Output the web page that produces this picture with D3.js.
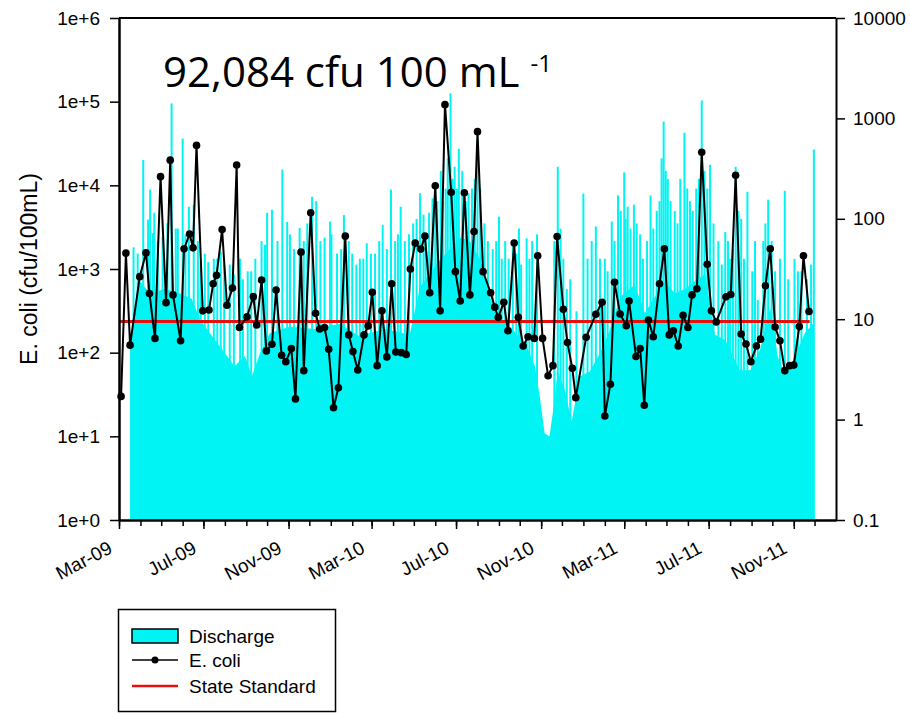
<!DOCTYPE html>
<html>
<head>
<meta charset="utf-8">
<script src="https://cdn.jsdelivr.net/npm/d3@7"></script>
<style>
  body { margin: 0; background: #fff; }
  svg text { font-family: "Liberation Sans", Arial, sans-serif; fill: #000; }
</style>
</head>
<body>
<div id="chart"></div>
<script>
// E. coli samples (cfu/100mL), left axis
var ecoliDates = ["2009-03-04","2009-03-11","2009-03-17","2009-03-31","2009-04-09","2009-04-14","2009-04-22","2009-04-30","2009-05-08","2009-05-14",
  "2009-05-18","2009-05-29","2009-06-03","2009-06-11","2009-06-16","2009-06-21","2009-06-30","2009-07-09","2009-07-15","2009-07-20",
  "2009-07-28","2009-08-04","2009-08-12","2009-08-18","2009-08-22","2009-09-02","2009-09-11","2009-09-16","2009-09-23","2009-09-30",
  "2009-10-08","2009-10-14","2009-10-22","2009-10-28","2009-11-05","2009-11-11","2009-11-19","2009-11-23","2009-12-03","2009-12-10",
  "2009-12-16","2009-12-23","2009-12-29","2010-01-05","2010-01-12","2010-01-22","2010-01-27","2010-02-02","2010-02-09","2010-02-18",
  "2010-02-24","2010-03-02","2010-03-09","2010-03-16","2010-03-23","2010-03-30","2010-04-05","2010-04-13","2010-04-20","2010-04-26",
  "2010-05-03","2010-05-11","2010-05-17","2010-05-24","2010-06-01","2010-06-08","2010-06-15","2010-06-24","2010-06-30","2010-07-07",
  "2010-07-13","2010-07-21","2010-07-27","2010-08-01","2010-08-09","2010-08-20","2010-08-26","2010-08-31","2010-09-08","2010-09-14",
  "2010-09-23","2010-09-29","2010-10-06","2010-10-13","2010-10-22","2010-10-27","2010-11-03","2010-11-11","2010-11-18","2010-11-24",
  "2010-12-03","2010-12-09","2010-12-16","2010-12-21","2011-01-05","2011-01-19","2011-01-28","2011-02-01","2011-02-09","2011-02-15",
  "2011-02-23","2011-03-04","2011-03-08","2011-03-18","2011-03-24","2011-03-30","2011-04-05","2011-04-12","2011-04-21","2011-04-28",
  "2011-05-05","2011-05-11","2011-05-18","2011-05-25","2011-06-01","2011-06-07","2011-06-14","2011-06-21","2011-06-29","2011-07-05",
  "2011-07-12","2011-07-26","2011-08-02","2011-08-09","2011-08-17","2011-08-24","2011-08-31","2011-09-08","2011-09-14","2011-09-21",
  "2011-09-28","2011-10-05","2011-10-12","2011-10-19","2011-10-26","2011-11-01","2011-11-09","2011-11-15","2011-11-23"];
var ecoliValues = [30,1550,123,810,1560,510,148,12700,396,20000,
  490,139,1740,2620,1790,30000,316,323,666,840,
  2960,368,593,17500,200,268,467,214,740,105,
  126,560,93,78,112,28,1590,61,4700,295,
  192,200,110,22,38,2470,163,103,62,163,
  209,526,70,316,89,665,102,100,95,1000,
  2040,1730,2470,520,9900,316,92084,8250,930,415,
  8150,490,2800,43800,930,520,350,265,400,183,
  2040,265,120,155,148,1440,148,53,70,2450,
  330,132,65,29,153,288,400,17.5,42,695,
  290,210,415,90,112,23.5,246,155,665,1740,
  163,183,120,280,200,490,580,24800,1140,316,
  233,466,495,13200,167,127,78,120,145,630,
  1740,203,139,61,70,71,205,1440,310];

// discharge, right axis: base flow level
var baseDates = ["2009-03-17","2009-03-24","2009-03-31","2009-04-15","2009-05-06","2009-05-28","2009-06-14","2009-06-26","2009-07-10","2009-08-01",
  "2009-08-15","2009-08-30","2009-09-09","2009-09-21","2009-10-05","2009-11-03","2009-12-09","2010-01-14","2010-02-11","2010-03-20",
  "2010-04-25","2010-05-10","2010-06-08","2010-07-07","2010-07-21","2010-08-05","2010-08-19","2010-09-02","2010-09-17","2010-10-09",
  "2010-10-23","2010-10-30","2010-11-06","2010-11-13","2010-11-18","2010-11-25","2010-12-05","2010-12-15","2010-12-27","2011-01-10",
  "2011-01-25","2011-02-08","2011-02-23","2011-03-16","2011-03-31","2011-04-14","2011-04-29","2011-05-13","2011-05-28","2011-06-11",
  "2011-06-26","2011-07-10","2011-07-25","2011-08-15","2011-08-30","2011-09-13","2011-09-28","2011-10-09","2011-10-19","2011-11-03",
  "2011-11-17","2011-11-30"];
var baseValues = [5.3,11.5,24,18,20,18,16,10,7.3,4.6,
  3.4,4.3,2.7,4.6,7.3,8.4,8,9,6.8,8,
  7,21,39,65,60,39,16.6,9.8,8.4,5.8,
  3.4,1.7,0.73,0.68,1.2,3,2,0.96,2.7,3,
  4.6,7.7,16.6,22,11.5,16.6,24,18,20,24,
  28,7,6.2,3.1,3.1,4.9,13,4.2,2.9,4.2,
  7.3,9.2];

// discharge storm peaks
var peakDates = ["2009-03-22","2009-03-28","2009-04-05","2009-04-12","2009-04-15","2009-04-19","2009-04-21","2009-04-26","2009-05-03","2009-05-10",
  "2009-05-16","2009-05-22","2009-05-25","2009-06-01","2009-06-05","2009-06-10","2009-06-17","2009-06-23","2009-06-27","2009-07-03",
  "2009-07-08","2009-07-16","2009-07-21","2009-07-26","2009-07-31","2009-08-08","2009-08-14","2009-08-23","2009-08-27","2009-09-03",
  "2009-09-08","2009-09-14","2009-09-23","2009-09-28","2009-10-01","2009-10-08","2009-10-16","2009-10-23","2009-10-30","2009-11-03",
  "2009-11-09","2009-11-17","2009-11-23","2009-11-28","2009-12-05","2009-12-11","2009-12-17","2009-12-23","2009-12-31","2010-01-02",
  "2010-01-10","2010-01-16","2010-01-20","2010-01-27","2010-02-01","2010-02-07","2010-02-12","2010-02-17","2010-02-22","2010-02-28",
  "2010-03-06","2010-03-12","2010-03-17","2010-03-23","2010-03-29","2010-04-04","2010-04-08","2010-04-12","2010-04-18","2010-04-24",
  "2010-04-30","2010-05-05","2010-05-10","2010-05-15","2010-05-18","2010-05-23","2010-05-28","2010-06-01","2010-06-04","2010-06-09",
  "2010-06-12","2010-06-16","2010-06-19","2010-06-23","2010-06-26","2010-06-29","2010-07-02","2010-07-05","2010-07-10","2010-07-15",
  "2010-07-19","2010-07-24","2010-07-28","2010-08-01","2010-08-05","2010-08-11","2010-08-16","2010-08-23","2010-08-28","2010-09-01",
  "2010-09-05","2010-09-10","2010-09-15","2010-09-21","2010-09-26","2010-09-30","2010-10-03","2010-10-11","2010-10-15","2010-10-19",
  "2010-10-26","2010-11-20","2010-11-25","2010-11-29","2010-12-03","2010-12-08","2010-12-13","2010-12-22","2011-01-01","2011-01-07",
  "2011-01-13","2011-01-19","2011-01-25","2011-02-01","2011-02-05","2011-02-11","2011-02-15","2011-02-20","2011-02-24","2011-03-01",
  "2011-03-03","2011-03-06","2011-03-10","2011-03-15","2011-03-19","2011-03-24","2011-03-28","2011-04-03","2011-04-08","2011-04-12",
  "2011-04-17","2011-04-21","2011-04-24","2011-04-27","2011-04-30","2011-05-03","2011-05-07","2011-05-13","2011-05-17","2011-05-21",
  "2011-05-27","2011-05-31","2011-06-04","2011-06-08","2011-06-13","2011-06-17","2011-06-21","2011-06-25","2011-06-29","2011-07-03",
  "2011-07-08","2011-07-15","2011-07-20","2011-07-25","2011-07-29","2011-08-01","2011-08-05","2011-08-09","2011-08-13","2011-08-17",
  "2011-08-21","2011-08-26","2011-09-02","2011-09-06","2011-09-10","2011-09-18","2011-09-21","2011-09-25","2011-09-30","2011-10-05",
  "2011-10-12","2011-10-19","2011-10-24","2011-11-02","2011-11-07","2011-11-12","2011-11-20","2011-11-26","2011-11-30"];
var peakValues = [52,45,385,98,195,72,115,60,66,90,
  1410,80,80,630,70,132,137,60,36,45,
  37,40,40,47,35,35,28,40,25,30,
  30,40,60,55,115,123,60,310,93,70,
  50,81,60,90,166,150,60,65,94,70,
  45,50,109,60,45,35,40,40,57,45,
  45,60,87,50,195,60,70,132,60,70,
  90,100,180,110,70,115,160,120,150,300,
  150,200,400,1780,250,330,200,500,300,150,
  180,200,250,600,200,90,60,50,60,105,
  40,60,40,61,45,80,35,64,40,60,
  70,60,330,80,40,20,25,12,178,40,
  60,84,40,40,30,94,60,171,120,290,
  100,132,80,138,90,70,40,60,171,80,
  120,150,400,930,300,250,150,120,90,250,
  720,200,150,120,200,250,1510,300,200,345,
  90,60,35,74,60,40,50,330,120,100,
  40,186,30,60,15.5,60,90,155,60,30,
  40,190,25,40,30,30,25,35,490];

var standardDates = ["2009-03-01", "2011-11-24"];
var standardValue = 235;

var leftTicks = [1, 10, 100, 1000, 10000, 100000, 1000000];
var leftLabels = ["1e+0", "1e+1", "1e+2", "1e+3", "1e+4", "1e+5", "1e+6"];
var rightTicks = [0.1, 1, 10, 100, 1000, 10000];
var rightLabels = ["0.1", "1", "10", "100", "1000", "10000"];
var monthNames = ["Jan","Feb","Mar","Apr","May","Jun","Jul","Aug","Sep","Oct","Nov","Dec"];
var legendLabels = ["Discharge", "E. coli", "State Standard"];
var titleText = "92,084 cfu 100 mL";
var titleSup = "-1";

var parse = d3.timeParse("%Y-%m-%d");
var cyan = "#00f4f4";
var plot = {left: 119, top: 18, right: 836, bottom: 520};

var svg = d3.select("#chart").append("svg")
  .attr("width", 910)
  .attr("height", 713);

var x = d3.scaleTime()
  .domain([parse("2009-03-01"), parse("2012-01-01")])
  .range([plot.left, plot.right]);
var yLeft = d3.scaleLog().domain([1, 1e6]).range([plot.bottom, plot.top]);
var yRight = d3.scaleLog().domain([0.1, 10000]).range([plot.bottom, plot.top]);

// discharge
var base = baseDates.map(function (d, i) { return {date: parse(d), value: baseValues[i]}; });
var peaks = peakDates.map(function (d, i) { return {date: parse(d), value: peakValues[i]}; });

svg.append("path")
  .datum(base)
  .attr("fill", cyan)
  .attr("d", d3.area()
    .x(d => x(d.date))
    .y0(plot.bottom)
    .y1(d => yRight(d.value)));

svg.append("g").selectAll("rect")
  .data(peaks)
  .enter().append("rect")
    .attr("fill", cyan)
    .attr("x", d => x(d.date) - 1)
    .attr("width", 2)
    .attr("y", d => yRight(d.value))
    .attr("height", d => plot.bottom - yRight(d.value));

// state standard
svg.append("line")
  .attr("x1", x(parse(standardDates[0])))
  .attr("x2", x(parse(standardDates[1])))
  .attr("y1", yLeft(standardValue))
  .attr("y2", yLeft(standardValue))
  .attr("stroke", "#e8100c")
  .attr("stroke-width", 3);

// e. coli
var ecoli = ecoliDates.map(function (d, i) { return {date: parse(d), value: ecoliValues[i]}; });
svg.append("path")
  .datum(ecoli)
  .attr("fill", "none")
  .attr("stroke", "#000")
  .attr("stroke-width", 2)
  .attr("d", d3.line().x(d => x(d.date)).y(d => yLeft(d.value)));
svg.append("g").selectAll("circle")
  .data(ecoli)
  .enter().append("circle")
    .attr("cx", d => x(d.date))
    .attr("cy", d => yLeft(d.value))
    .attr("r", 3.8)
    .attr("fill", "#000");

// axes
function styleAxis(g, width) {
  g.select(".domain").attr("stroke", "#000").attr("stroke-width", width);
  g.selectAll(".tick line").attr("stroke", "#000").attr("stroke-width", 1.5);
  g.selectAll("text").style("font-size", "19px").style("font-family", "'Liberation Sans', Arial, sans-serif");
}

var leftAxis = svg.append("g")
  .attr("transform", "translate(" + plot.left + ",0)")
  .call(d3.axisLeft(yLeft).tickValues(leftTicks).tickFormat((d, i) => leftLabels[i])
    .tickSize(9).tickSizeOuter(0).tickPadding(10));
styleAxis(leftAxis, 2.5);

var rightAxis = svg.append("g")
  .attr("transform", "translate(" + plot.right + ",0)")
  .call(d3.axisRight(yRight).tickValues(rightTicks).tickFormat((d, i) => rightLabels[i])
    .tickSize(9).tickSizeOuter(0).tickPadding(8));
styleAxis(rightAxis, 2);

var months = d3.timeMonth.range(parse("2009-03-01"), parse("2012-01-01"));
var minorAxis = svg.append("g")
  .attr("transform", "translate(0," + plot.bottom + ")")
  .call(d3.axisBottom(x).tickValues(months).tickFormat("").tickSize(6).tickSizeOuter(0));
styleAxis(minorAxis, 2.5);

var majorMonths = months.filter(d => d.getMonth() % 4 === 2);
var majorAxis = svg.append("g")
  .attr("transform", "translate(0," + plot.bottom + ")")
  .call(d3.axisBottom(x).tickValues(majorMonths)
    .tickFormat(d => monthNames[d.getMonth()] + "-" + d3.timeFormat("%y")(d))
    .tickSize(9).tickSizeOuter(0));
styleAxis(majorAxis, 2.5);
majorAxis.select(".domain").remove();
majorAxis.selectAll("text")
  .attr("text-anchor", "end")
  .attr("dy", null)
  .attr("y", null)
  .attr("transform", "translate(-6,32) rotate(-28)");

// top frame line
svg.append("line")
  .attr("x1", plot.left).attr("x2", plot.right)
  .attr("y1", plot.top).attr("y2", plot.top)
  .attr("stroke", "#000").attr("stroke-width", 2);

// y axis title
svg.append("text")
  .attr("transform", "translate(37," + ((plot.top + plot.bottom) / 2) + ") rotate(-90)")
  .attr("text-anchor", "middle")
  .style("font-size", "23px")
  .text("E. coli (cfu/100mL)");

// annotation
var title = svg.append("text")
  .attr("x", 163)
  .attr("y", 87)
  .style("font-family", "'Open Sans', sans-serif")
  .style("font-size", "42px")
  .text(titleText + " ");
title.append("tspan")
  .attr("dy", -15)
  .style("font-size", "24px")
  .text(titleSup);

// legend
var legend = svg.append("g");
legend.append("rect")
  .attr("x", 118.5).attr("y", 609.5)
  .attr("width", 217).attr("height", 102)
  .attr("fill", "none").attr("stroke", "#000").attr("stroke-width", 1.5);
var rowY = [636, 660, 686];
legend.append("rect")
  .attr("x", 132).attr("y", rowY[0] - 7)
  .attr("width", 46).attr("height", 14)
  .attr("fill", cyan).attr("stroke", "#000").attr("stroke-width", 1.5);
legend.append("line")
  .attr("x1", 132).attr("x2", 178)
  .attr("y1", rowY[1]).attr("y2", rowY[1])
  .attr("stroke", "#000").attr("stroke-width", 1.5);
legend.append("circle")
  .attr("cx", 155).attr("cy", rowY[1]).attr("r", 3.5).attr("fill", "#000");
legend.append("line")
  .attr("x1", 132).attr("x2", 178)
  .attr("y1", rowY[2]).attr("y2", rowY[2])
  .attr("stroke", "#e8100c").attr("stroke-width", 2.5);
legend.selectAll("text.lab")
  .data(legendLabels)
  .enter().append("text")
    .attr("class", "lab")
    .attr("x", 189)
    .attr("y", (d, i) => rowY[i] + 7)
    .style("font-size", "19px")
    .text(d => d);
</script>
</body>
</html>
